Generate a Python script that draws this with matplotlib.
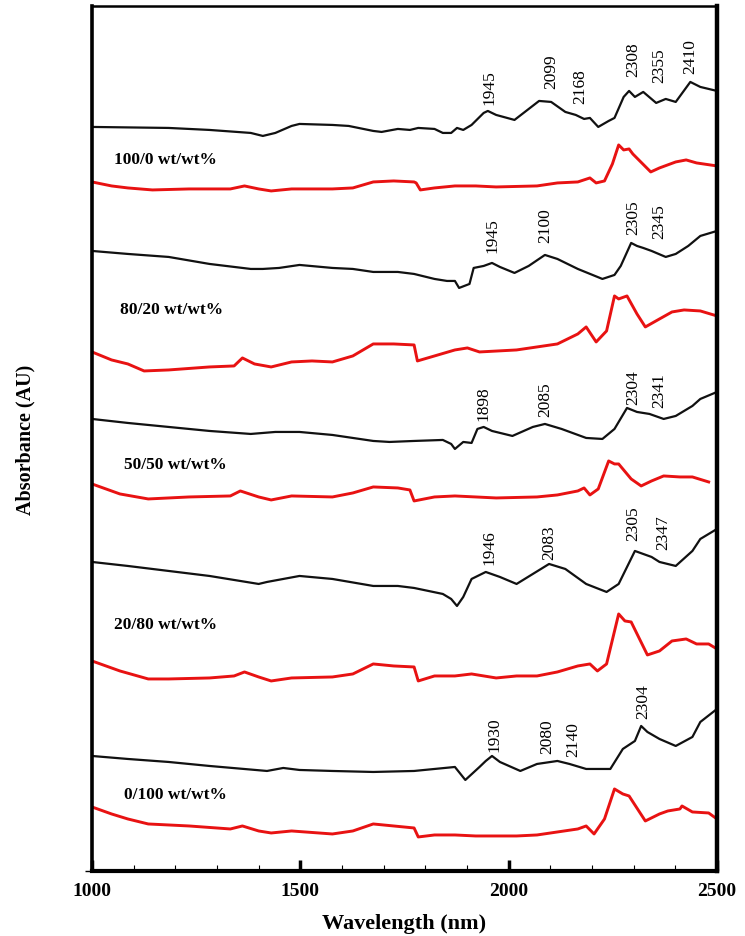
import matplotlib
matplotlib.use("Agg")
import matplotlib.pyplot as plt
from matplotlib.ticker import MultipleLocator

# values (absorbance in arbitrary stacked units)
nm_100_0_k = [1000, 1184, 1282, 1381, 1410, 1440, 1479, 1498, 1577, 1616, 1675, 1695, 1734, 1763, 1783,
              1822, 1842, 1862, 1876, 1891, 1911, 1940, 1950, 1970, 2014, 2073, 2102, 2136, 2161, 2181,
              2195, 2215, 2240, 2254, 2276, 2289, 2303, 2323, 2354, 2377, 2401, 2436, 2460, 2500]
ab_100_0_k = [744, 743, 741, 738, 735, 738, 745, 747, 746, 745, 740, 739, 742, 741, 743,
              742, 738, 738, 743, 741, 746, 758, 760, 756, 751, 770, 769, 759, 756, 752,
              753, 744, 750, 753, 774, 780, 774, 779, 768, 772, 769, 789, 784, 780]

nm_100_0_r = [1000, 1047, 1086, 1145, 1233, 1332, 1366, 1400, 1430, 1479, 1577, 1626, 1675, 1724, 1773,
              1778, 1788, 1822, 1871, 1921, 1970, 2068, 2117, 2166, 2195, 2210, 2230, 2249, 2264, 2276,
              2289, 2298, 2341, 2362, 2401, 2426, 2451, 2500]
ab_100_0_r = [689, 685, 683, 681, 682, 682, 685, 682, 680, 682, 682, 683, 689, 690, 689,
              688, 681, 683, 685, 685, 684, 685, 688, 689, 693, 688, 690, 707, 726, 721,
              722, 717, 699, 703, 709, 711, 708, 705]

nm_80_20_k = [1000, 1086, 1184, 1282, 1381, 1410, 1449, 1498, 1577, 1626, 1675, 1734, 1773, 1822, 1852,
              1871, 1881, 1906, 1916, 1940, 1960, 1979, 2014, 2048, 2087, 2117, 2166, 2225, 2254, 2269,
              2294, 2308, 2323, 2343, 2377, 2401, 2431, 2460, 2500]
ab_80_20_k = [620, 617, 614, 607, 602, 602, 603, 606, 603, 602, 599, 599, 597, 592, 590,
              590, 583, 587, 603, 605, 608, 604, 598, 605, 616, 612, 602, 592, 596, 605,
              628, 625, 623, 620, 614, 617, 625, 635, 640]

nm_80_20_r = [1000, 1047, 1086, 1125, 1184, 1282, 1341, 1361, 1390, 1430, 1479, 1528, 1577, 1626, 1675,
              1724, 1773, 1781, 1822, 1871, 1901, 1930, 2019, 2068, 2117, 2166, 2186, 2210, 2235, 2254,
              2264, 2284, 2308, 2328, 2362, 2392, 2421, 2460, 2500]
ab_80_20_r = [519, 511, 507, 500, 501, 504, 505, 513, 507, 504, 509, 510, 509, 515, 527,
              527, 526, 510, 515, 521, 523, 519, 521, 524, 527, 537, 544, 529, 540, 575,
              572, 575, 557, 544, 552, 559, 561, 560, 555]

nm_50_50_k = [1000, 1086, 1184, 1282, 1381, 1440, 1498, 1577, 1675, 1714, 1773, 1842, 1862, 1871, 1891,
              1911, 1925, 1940, 1960, 2009, 2058, 2087, 2127, 2186, 2225, 2254, 2284, 2308, 2338, 2372,
              2401, 2441, 2460, 2500]
ab_50_50_k = [452, 448, 444, 440, 437, 439, 439, 436, 430, 429, 430, 431, 427, 422, 429,
              428, 442, 444, 440, 435, 444, 447, 442, 433, 432, 442, 463, 459, 457, 452,
              455, 465, 472, 479]

nm_50_50_r = [1000, 1067, 1135, 1233, 1332, 1356, 1400, 1430, 1479, 1577, 1626, 1675, 1734, 1763, 1773,
              1822, 1871, 1921, 1970, 2068, 2117, 2166, 2181, 2195, 2215, 2240, 2254, 2264, 2294, 2318,
              2343, 2372, 2411, 2441, 2480]
ab_50_50_r = [387, 377, 372, 374, 375, 380, 374, 371, 375, 374, 378, 384, 383, 381, 370,
              374, 375, 374, 373, 374, 376, 380, 383, 376, 382, 410, 407, 407, 392, 385,
              390, 395, 394, 394, 389]

nm_20_80_k = [1000, 1086, 1184, 1282, 1400, 1420, 1498, 1577, 1675, 1734, 1773, 1842, 1862, 1876, 1891,
              1911, 1945, 1979, 2019, 2058, 2097, 2136, 2186, 2235, 2264, 2303, 2323, 2343, 2362, 2401,
              2441, 2460, 2500]
ab_20_80_k = [309, 305, 300, 295, 287, 289, 295, 292, 285, 285, 283, 277, 272, 265, 274,
              292, 299, 294, 287, 297, 307, 302, 287, 279, 287, 320, 317, 314, 309, 305,
              320, 332, 342]

nm_20_80_r = [1000, 1067, 1135, 1184, 1282, 1341, 1366, 1400, 1430, 1479, 1577, 1626, 1675, 1724, 1773,
              1783, 1822, 1871, 1911, 1970, 2019, 2068, 2117, 2166, 2195, 2213, 2235, 2264, 2279, 2294,
              2333, 2362, 2392, 2426, 2451, 2480, 2500]
ab_20_80_r = [210, 200, 192, 192, 193, 195, 199, 194, 190, 193, 194, 197, 207, 205, 204,
              190, 195, 195, 197, 193, 195, 195, 199, 205, 207, 200, 207, 257, 250, 249,
              216, 220, 230, 232, 227, 227, 222]

nm_0_100_k = [1000, 1086, 1184, 1282, 1420, 1459, 1498, 1577, 1675, 1773, 1822, 1871, 1896, 1930, 1945,
              1960, 1979, 2028, 2068, 2117, 2146, 2186, 2244, 2274, 2303, 2318, 2333, 2362, 2401, 2441,
              2460, 2500]
ab_0_100_k = [115, 112, 109, 105, 100, 103, 101, 100, 99, 100, 102, 104, 91, 104, 110,
              115, 109, 100, 107, 110, 107, 102, 102, 122, 130, 145, 139, 132, 125, 134,
              149, 162]

nm_0_100_r = [1000, 1047, 1086, 1135, 1233, 1332, 1361, 1400, 1430, 1479, 1577, 1626, 1675, 1724, 1773,
              1783, 1822, 1871, 1921, 1970, 2019, 2068, 2117, 2166, 2186, 2205, 2230, 2254, 2274, 2289,
              2328, 2362, 2382, 2411, 2416, 2441, 2480, 2500]
ab_0_100_r = [64, 57, 52, 47, 45, 42, 45, 40, 38, 40, 37, 40, 47, 45, 43,
              34, 36, 36, 35, 35, 35, 36, 39, 42, 45, 37, 52, 82, 77, 75,
              50, 57, 60, 62, 65, 59, 58, 52]

blend_labels = ["100/0 wt/wt%", "80/20 wt/wt%", "50/50 wt/wt%", "20/80 wt/wt%", "0/100 wt/wt%"]
blend_label_x = [1053, 1067, 1077, 1053, 1077]
blend_label_y = [712, 562, 407, 247, 77]

peak_text = ["1945", "2099", "2168", "2308", "2355", "2410",
             "1945", "2100", "2305", "2345",
             "1898", "2085", "2304", "2341",
             "1946", "2083", "2305", "2347",
             "1930", "2080", "2140", "2304"]
peak_x = [1955, 2102, 2171, 2298, 2362, 2436,
          1962, 2087, 2298, 2362,
          1939, 2087, 2298, 2362,
          1955, 2097, 2298, 2372,
          1965, 2092, 2156, 2323]
peak_y = [784, 800, 785, 812, 806, 815,
          636, 646, 654, 650,
          468, 472, 484, 481,
          324, 329, 348, 339,
          137, 135, 132, 170]

serif = ["Liberation Serif", "DejaVu Serif"]

fig = plt.figure(figsize=(7.45, 9.37), dpi=100)
ax = fig.add_axes([0.1235, 0.0694, 0.8389, 0.9232])

black_sets = [(nm_100_0_k, ab_100_0_k), (nm_80_20_k, ab_80_20_k), (nm_50_50_k, ab_50_50_k),
              (nm_20_80_k, ab_20_80_k), (nm_0_100_k, ab_0_100_k)]
red_sets = [(nm_100_0_r, ab_100_0_r), (nm_80_20_r, ab_80_20_r), (nm_50_50_r, ab_50_50_r),
            (nm_20_80_r, ab_20_80_r), (nm_0_100_r, ab_0_100_r)]

for x, y in black_sets:
    ax.plot(x, y, color="#111111", lw=1.6, solid_joinstyle="round")
for x, y in red_sets:
    ax.plot(x, y, color="#e81212", lw=2.1, solid_joinstyle="round")

for t, x, y in zip(blend_labels, blend_label_x, blend_label_y):
    ax.text(x, y, t, family=serif, fontweight="bold", fontsize=12.5, ha="left", va="center")

for t, x, y in zip(peak_text, peak_x, peak_y):
    ax.text(x, y, t, family=serif, fontsize=12.5, rotation=90, ha="center", va="center")

ax.set_xlim(1000, 2500)
ax.set_ylim(0, 865)

ax.set_xticks([1000, 1500, 2000, 2500])
ax.set_xticklabels(["1000", "1500", "2000", "2500"], family=serif, fontweight="bold", fontsize=14)
ax.xaxis.set_minor_locator(MultipleLocator(100))
ax.tick_params(axis="x", which="major", direction="in", length=8, width=2.5, pad=8)
ax.tick_params(axis="x", which="minor", direction="in", length=4, width=0.8)
ax.set_yticks([0])
ax.set_yticklabels([""])
ax.tick_params(axis="y", direction="out", length=5, width=1)

for side, w in [("left", 2.6), ("bottom", 3.0), ("right", 3.2), ("top", 1.8)]:
    ax.spines[side].set_linewidth(w)

ax.set_xlabel("Wavelength (nm)", family=serif, fontweight="bold", fontsize=16, labelpad=10)
ax.set_ylabel("Absorbance (AU)", family=serif, fontweight="bold", fontsize=14.5, labelpad=32)

fig.savefig("out.png", dpi=100)
